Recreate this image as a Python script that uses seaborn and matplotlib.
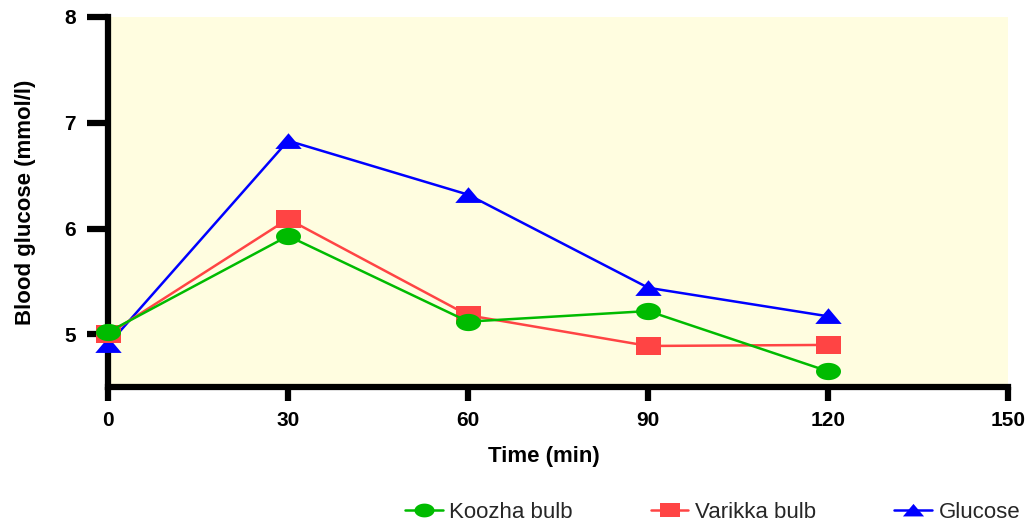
import numpy as np
import pandas as pd
import matplotlib
matplotlib.use("Agg")
import matplotlib.pyplot as plt
from matplotlib.path import Path
import seaborn as sns

# Data
time_min = [0, 30, 60, 90, 120]
koozha = [5.02, 5.93, 5.12, 5.22, 4.65]
varikka = [5.00, 6.09, 5.18, 4.89, 4.90]
glucose = [4.90, 6.83, 6.32, 5.44, 5.17]
series_names = ["Koozha bulb", "Varikka bulb", "Glucose"]

df = pd.DataFrame({
    "time": time_min * 3,
    "value": koozha + varikka + glucose,
    "group": [n for n in series_names for _ in time_min],
})

sns.set_style("ticks")
plt.rcParams['font.family'] = ['Liberation Sans', 'DejaVu Sans']

# wide markers (the original figure is stretched horizontally)
t = np.linspace(0, 2 * np.pi, 60)
ellipse = Path(np.column_stack([1.45 * np.cos(t), np.sin(t)]))
rect = Path([(-1.45, -1), (1.45, -1), (1.45, 1), (-1.45, 1), (-1.45, -1)],
            [Path.MOVETO, Path.LINETO, Path.LINETO, Path.LINETO, Path.CLOSEPOLY])
tri = Path([(-1.6, -0.9), (1.6, -0.9), (0, 1.0), (-1.6, -0.9)],
           [Path.MOVETO, Path.LINETO, Path.LINETO, Path.CLOSEPOLY])

colors = {"Koozha bulb": "#00bb00", "Varikka bulb": "#ff4444", "Glucose": "#0000ff"}
markers = {"Koozha bulb": ellipse, "Varikka bulb": rect, "Glucose": tri}
sizes = {"Koozha bulb": 18, "Varikka bulb": 18, "Glucose": 19}
zorders = {"Koozha bulb": 7, "Varikka bulb": 6, "Glucose": 5}

fig = plt.figure(figsize=(10.28, 5.29), dpi=100)
ax = fig.add_axes([0.105, 0.268, 0.876, 0.70])
ax.set_facecolor("#fffde0")

for name in series_names:
    sub = df[df["group"] == name]
    sns.lineplot(data=sub, x="time", y="value", ax=ax, color=colors[name],
                 marker=markers[name], markersize=sizes[name],
                 markeredgewidth=0, linewidth=1.8, label=name, legend=False,
                 clip_on=False, zorder=zorders[name])

ax.set_xlim(0, 150)
ax.set_ylim(4.5, 8)
ax.set_xticks([0, 30, 60, 90, 120, 150])
ax.set_yticks([5, 6, 7, 8])
ax.set_xlabel("Time (min)", fontsize=16, fontweight="bold", color="black")
ax.set_ylabel("Blood glucose (mmol/l)", fontsize=16, fontweight="bold", color="black")
ax.xaxis.set_label_coords(0.484, -0.16)
ax.yaxis.set_label_coords(-0.08, 0.5)

for s in ["top", "right"]:
    ax.spines[s].set_visible(False)
for s in ["left", "bottom"]:
    ax.spines[s].set_linewidth(4.5)
    ax.spines[s].set_color("black")
    ax.spines[s].set_zorder(3)
ax.tick_params(axis="both", direction="out", width=4.5, color="black",
               labelsize=15, labelcolor="black")
ax.tick_params(axis="x", length=10, pad=7)
ax.tick_params(axis="y", length=15, pad=8)
for lab in ax.get_xticklabels() + ax.get_yticklabels():
    lab.set_fontweight("bold")

handles, labels = ax.get_legend_handles_labels()
fig.legend(handles, labels, loc="center", bbox_to_anchor=(0.693, 0.032), ncol=3,
           frameon=False, fontsize=16, columnspacing=3.5, handlelength=1.7,
           handletextpad=0.3, markerscale=0.8)

fig.savefig("out.png", dpi=100)
